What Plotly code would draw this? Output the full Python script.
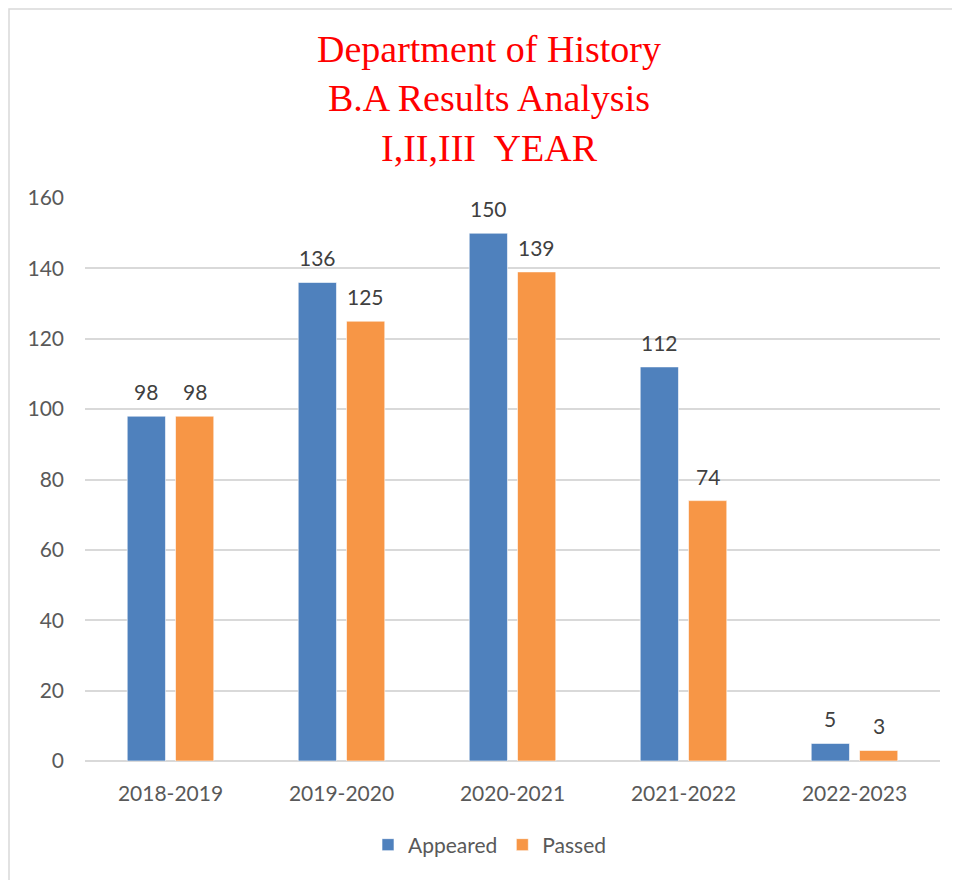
import plotly.graph_objects as go

categories = ["2018-2019", "2019-2020", "2020-2021", "2021-2022", "2022-2023"]
appeared = [98, 136, 150, 112, 5]
passed = [98, 125, 139, 74, 3]
y_ticks = [0, 20, 40, 60, 80, 100, 120, 140, 160]

BLUE = "#4F81BD"
ORANGE = "#F79646"
TICK_FONT = dict(family="Lato, Carlito, sans-serif", size=21, color="#595959")

# page renders the figure with an 8px body offset
OFF = 8
W, H = 960 - OFF, 880 - OFF
ML, MR, MT, MB = 85 - OFF, W - (940 - OFF), 198 - OFF, H - (761 - OFF)
BARGAP = 0.435
GROUPGAP = 0.208

fig = go.Figure()
for name, vals, col in [("Appeared", appeared, BLUE), ("Passed", passed, ORANGE)]:
    fig.add_trace(go.Bar(
        name=name, x=categories, y=vals,
        marker=dict(color=col, line=dict(color="rgba(255,255,255,0.6)", width=1)),
        hoverinfo="x+y+name",
    ))

# data labels via annotations placed at bar centres
slot = (1 - BARGAP) / 2
for k, vals in enumerate([appeared, passed]):
    off = (k - 0.5) * slot
    for i, v in enumerate(vals):
        fig.add_annotation(
            x=i + off, y=v, xref="x", yref="y", text=str(v), showarrow=False,
            yanchor="bottom", yshift=10,
            font=dict(family="Lato, Carlito, sans-serif", size=21, color="#404040"),
        )

pw = W - ML - MR
ph = H - MT - MB
# outer chart border
fig.add_shape(type="rect", xref="paper", yref="paper",
              x0=(1 - ML) / pw, x1=(W + 10 - ML) / pw,
              y0=-(H + 10 - MT - ph) / ph, y1=(ph + MT - 1) / ph,
              line=dict(color="#D9D9D9", width=1.5), fillcolor="rgba(0,0,0,0)", layer="below")

fig.update_layout(
    width=W, height=H,
    margin=dict(l=ML, r=MR, t=MT, b=MB),
    paper_bgcolor="white", plot_bgcolor="white",
    barmode="group", bargap=BARGAP, bargroupgap=GROUPGAP,
    title=dict(
        text="Department of History<br>B.A Results Analysis<br>I,II,III  YEAR",
        x=(489 - OFF) / W, xanchor="center", xref="container",
        y=1 - (50 - OFF + 12) / H, yanchor="middle", yref="container",
        font=dict(family="Liberation Serif, serif", size=38, color="#FF0000"),
    ),
    xaxis=dict(
        type="category", showgrid=False, showline=False, zeroline=False,
        tickfont=TICK_FONT, ticks="", ticklabelstandoff=18,
    ),
    yaxis=dict(
        range=[0, 160], tickvals=y_ticks, showgrid=True, gridcolor="#D9D9D9", gridwidth=1.5,
        zeroline=True, zerolinecolor="#D9D9D9", zerolinewidth=1.5, showline=False,
        tickfont=TICK_FONT, ticks="", ticklabelstandoff=20,
    ),
    legend=dict(
        orientation="h", x=(490 - OFF - ML) / pw, xanchor="center", y=-(845 - OFF - MT - ph) / ph,
        yanchor="middle", font=dict(family="Lato, Carlito, sans-serif", size=21, color="#595959"),
        itemwidth=30, traceorder="normal",
    ),
    showlegend=True,
)

fig.write_html("out.html")
